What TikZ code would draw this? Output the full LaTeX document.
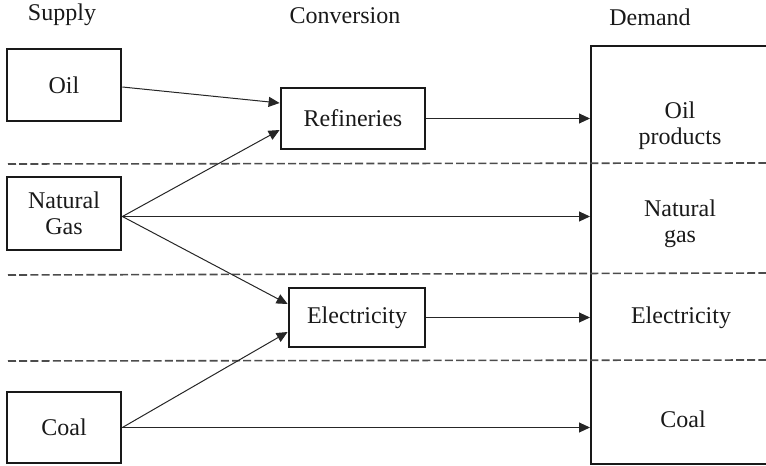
\documentclass[tikz,border=0pt]{standalone}
\usepackage{fontspec}
\setmainfont{Liberation Serif}
\usetikzlibrary{arrows.meta}
\begin{document}
\begin{tikzpicture}[x=0.5pt,y=-0.5pt,
  font=\fontsize{12}{13}\selectfont,
  every node/.style={text=black!90},
  box/.style={draw=black!90,line width=1.4pt,inner sep=0pt,align=center},
  flow/.style={draw=black!85,line width=0.5pt,-{Triangle[length=5.5pt,width=5pt]}},
  divider/.style={draw=black!70,line width=0.8pt,dash pattern=on 4pt off 1.6pt},
  label/.style={align=center,inner sep=0pt}]
\useasboundingbox (0,0) rectangle (766,466);

% column headings
\node[label] (hsupply) at (62,15) {Supply};
\node[label] (hconv) at (345,16) {Conversion};
\node[label] (hdemand) at (650,17) {Demand};

% demand column (open to the right)
\begin{scope}
\clip (0,0) rectangle (766,466);
\draw[line width=1.4pt,draw=black!90] (800,46) -- (591,46) -- (591,464) -- (800,464);
\end{scope}
\coordinate (dleft) at (590,46);

% sector dividers
\draw[divider] (8,164) -- (766,163);
\draw[divider] (8,275) -- (766,273);
\draw[divider] (8,361) -- (766,360);

% supply
\node[box,minimum width=57pt,minimum height=36pt] (oil) at (64,85) {Oil};
\node[box,minimum width=57pt,minimum height=36.5pt] (gas) at (64,213.5) {Natural\\Gas};
\node[box,minimum width=57pt,minimum height=35.5pt] (coal) at (64,427.5) {Coal};

% conversion
\node[box,minimum width=72pt,minimum height=30.5pt] (ref) at (353,118.5) {Refineries};
\node[box,minimum width=68pt,minimum height=29.5pt] (elec) at (357,317.5) {Electricity};

% demand labels
\node[label] (doil) at (680,126) {Oil\\products};
\node[label] (dgas) at (680,224) {Natural\\gas};
\node[label] (delec) at (681,318) {Electricity};
\node[label] (dcoal) at (683,419) {Coal};

% flows
\draw[flow] ([yshift=-1pt]oil.east) -- ([yshift=7.75pt]ref.west);
\draw[flow] ([yshift=-1.5pt]gas.east) -- ([yshift=-5.75pt]ref.west);
\draw[flow] ([yshift=-1.5pt]gas.east) -- ([yshift=-1.5pt]gas.east -| dleft);
\draw[flow] ([yshift=-1.5pt]gas.east) -- ([yshift=6.75pt]elec.west);
\draw[flow] (coal.east) -- ([yshift=-7.25pt]elec.west);
\draw[flow] (coal.east) -- (coal.east -| dleft);
\draw[flow] (ref.east) -- (ref.east -| dleft);
\draw[flow] (elec.east) -- (elec.east -| dleft);
\end{tikzpicture}
\end{document}
